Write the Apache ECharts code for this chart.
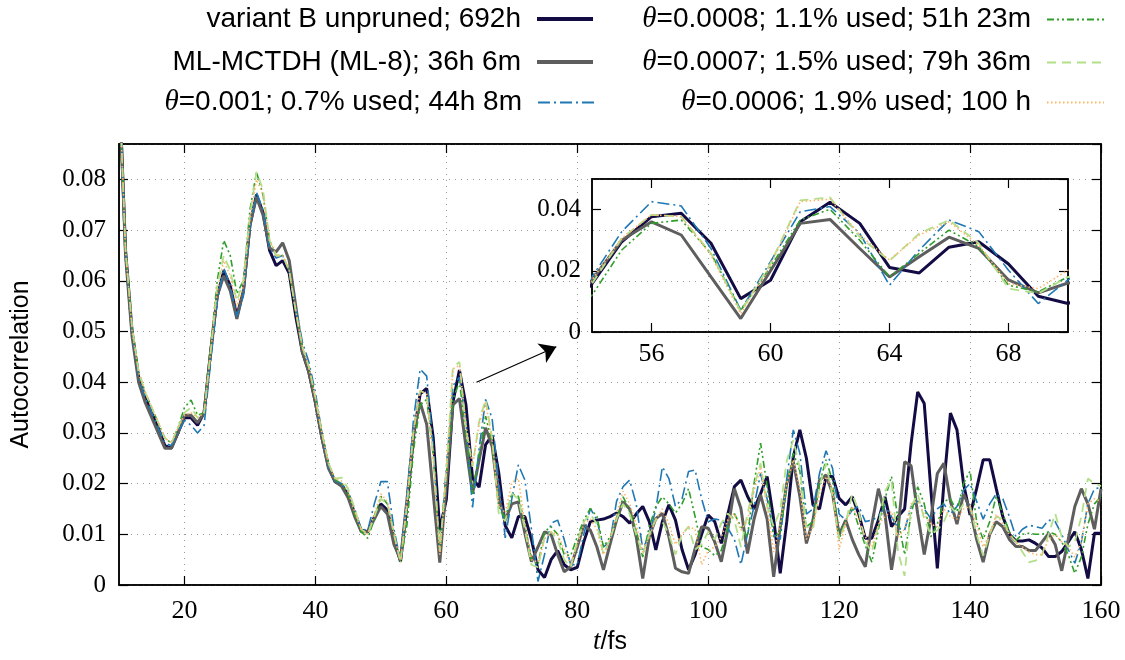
<!DOCTYPE html>
<html>
<head>
<meta charset="utf-8">
<title>Autocorrelation</title>
<script src="https://cdn.jsdelivr.net/npm/echarts@6/dist/echarts.min.js"></script>
<style>
  html, body { margin: 0; padding: 0; background: #fff; }
  #chart { width: 1125px; height: 660px; }
</style>
</head>
<body>
<div id="chart"></div>
<script>
// one sample per fs, from 10 fs to 160 fs
var tStart = 10, tEnd = 160;
var times = [];
for (var t = tStart; t <= tEnd; t++) times.push(t);

var names = [
  'variant B unpruned; 692h',
  'ML-MCTDH (ML-8); 36h 6m',
  'θ=0.001; 0.7% used; 44h 8m',
  'θ=0.0008; 1.1% used; 51h 23m',
  'θ=0.0007; 1.5% used; 79h 36m',
  'θ=0.0006; 1.9% used; 100 h'
];

// values, rows of ten (10-19 fs, 20-29 fs, ...)
var unpruned = [
  0.100, 0.066, 0.050, 0.041, 0.037, 0.034, 0.031, 0.0275, 0.027, 0.030,
  0.033, 0.033, 0.0315, 0.034, 0.046, 0.057, 0.062, 0.059, 0.053, 0.058,
  0.071, 0.077, 0.0735, 0.066, 0.063, 0.064, 0.0615, 0.053, 0.046, 0.042,
  0.036, 0.029, 0.0233, 0.0204, 0.0197, 0.0178, 0.0141, 0.0108, 0.0105, 0.0134,
  0.0160, 0.0148, 0.0089, 0.0046, 0.0158, 0.0295, 0.0377, 0.0388, 0.0290, 0.0109,
  0.0169, 0.0360, 0.0424, 0.0355, 0.0211, 0.0193, 0.0277, 0.0295, 0.0222, 0.0117,
  0.0093, 0.0135, 0.0135, 0.0090, 0.0030, 0.0015, 0.0050, 0.0068, 0.0040, 0.0030,
  0.0035, 0.0085, 0.0125, 0.0128, 0.0130, 0.0135, 0.0142, 0.0135, 0.0122, 0.0140,
  0.0155, 0.0125, 0.0069, 0.0125, 0.0158, 0.0128, 0.0070, 0.0030, 0.0060, 0.0100,
  0.0138, 0.0125, 0.0082, 0.0140, 0.0194, 0.0207, 0.0175, 0.0150, 0.0180, 0.0214,
  0.0130, 0.0023, 0.0125, 0.0253, 0.0306, 0.0250, 0.0158, 0.0150, 0.0214, 0.0214,
  0.0171, 0.0158, 0.0174, 0.0140, 0.0092, 0.0092, 0.0128, 0.0174, 0.0115, 0.0135,
  0.0150, 0.0280, 0.0381, 0.0358, 0.0190, 0.0033, 0.0200, 0.0339, 0.0306, 0.0200,
  0.0138, 0.0190, 0.0247, 0.0247, 0.0190, 0.0135, 0.0100, 0.0087, 0.0087, 0.0089,
  0.0082, 0.0073, 0.0056, 0.0056, 0.0066, 0.0085, 0.0105, 0.0070, 0.0013, 0.0102,
  0.0102
];
var mlmctdh = [
  0.100, 0.065, 0.049, 0.040, 0.036, 0.033, 0.030, 0.027, 0.027, 0.030,
  0.0335, 0.0335, 0.032, 0.034, 0.046, 0.057, 0.061, 0.058, 0.0525, 0.058,
  0.071, 0.0765, 0.073, 0.0665, 0.0657, 0.0675, 0.064, 0.055, 0.046, 0.042,
  0.036, 0.029, 0.023, 0.0204, 0.0195, 0.0172, 0.0135, 0.0105, 0.0105, 0.0130,
  0.0155, 0.0140, 0.0080, 0.0050, 0.0170, 0.0300, 0.0360, 0.0317, 0.0180, 0.0044,
  0.0200, 0.0355, 0.0368, 0.0273, 0.0180, 0.0246, 0.0310, 0.0273, 0.0170, 0.0128,
  0.0160, 0.0164, 0.0102, 0.0046, 0.0075, 0.0105, 0.0100, 0.0060, 0.0026, 0.0036,
  0.0075, 0.0118, 0.0108, 0.0075, 0.0030, 0.0080, 0.0128, 0.0164, 0.0150, 0.0095,
  0.0013, 0.0095, 0.0131, 0.0141, 0.0095, 0.0033, 0.0026, 0.0023, 0.0072, 0.0115,
  0.0112, 0.0085, 0.0046, 0.0110, 0.0190, 0.0151, 0.0062, 0.0130, 0.0178, 0.0130,
  0.0016, 0.0115, 0.0200, 0.0243, 0.0175, 0.0082, 0.0128, 0.0207, 0.0217, 0.0180,
  0.0099, 0.0128, 0.0090, 0.0060, 0.0036, 0.0120, 0.0190, 0.0140, 0.0030, 0.0110,
  0.0243, 0.0235, 0.0140, 0.0060, 0.0130, 0.0220, 0.0240, 0.0165, 0.0120, 0.0180,
  0.0150, 0.0090, 0.0045, 0.0100, 0.0125, 0.0115, 0.0090, 0.0076, 0.0076, 0.0068,
  0.0068, 0.0085, 0.0102, 0.0080, 0.0028, 0.0090, 0.0155, 0.0190, 0.0160, 0.0110,
  0.0190
];
var theta0010 = [
  0.100, 0.066, 0.050, 0.041, 0.037, 0.034, 0.031, 0.028, 0.0275, 0.030,
  0.0325, 0.0315, 0.030, 0.0315, 0.044, 0.056, 0.0625, 0.059, 0.053, 0.057,
  0.0705, 0.0775, 0.074, 0.0665, 0.0645, 0.065, 0.062, 0.055, 0.048, 0.044,
  0.038, 0.030, 0.0235, 0.0205, 0.0200, 0.0185, 0.0150, 0.0110, 0.0108, 0.0160,
  0.0204, 0.0204, 0.0110, 0.0048, 0.0180, 0.0328, 0.0426, 0.0412, 0.0273, 0.0071,
  0.0230, 0.0393, 0.0410, 0.0322, 0.0153, 0.0268, 0.0366, 0.0328, 0.0202, 0.0093,
  0.0170, 0.0237, 0.0207, 0.0110, 0.0007, 0.0060, 0.0122, 0.0128, 0.0090, 0.0040,
  0.0040, 0.0100, 0.0151, 0.0128, 0.0075, 0.0085, 0.0165, 0.0194, 0.0207, 0.0160,
  0.0070, 0.0100, 0.0150, 0.0233, 0.0210, 0.0155, 0.0170, 0.0224, 0.0227, 0.0170,
  0.0125, 0.0130, 0.0128, 0.0112, 0.0090, 0.0040, 0.0100, 0.0155, 0.0220, 0.0170,
  0.0100, 0.0090, 0.0210, 0.0306, 0.0260, 0.0140, 0.0150, 0.0220, 0.0265, 0.0230,
  0.0140, 0.0128, 0.0148, 0.0155, 0.0125, 0.0128, 0.0135, 0.0155, 0.0135, 0.0112,
  0.0108, 0.0155, 0.0165, 0.0150, 0.0131, 0.0150, 0.0160, 0.0140, 0.0155, 0.0187,
  0.0200, 0.0165, 0.0130, 0.0160, 0.0180, 0.0170, 0.0135, 0.0095, 0.0110, 0.0118,
  0.0115, 0.0112, 0.0128, 0.0125, 0.0100, 0.0070, 0.0043, 0.0085, 0.0160, 0.0190,
  0.0192
];
var theta0008 = [
  0.100, 0.067, 0.051, 0.042, 0.038, 0.035, 0.032, 0.029, 0.028, 0.031,
  0.035, 0.0365, 0.0335, 0.034, 0.047, 0.060, 0.068, 0.065, 0.0575, 0.060,
  0.074, 0.0815, 0.077, 0.068, 0.065, 0.065, 0.062, 0.054, 0.047, 0.043,
  0.037, 0.030, 0.024, 0.0208, 0.0200, 0.0180, 0.0140, 0.0105, 0.0092, 0.0130,
  0.0175, 0.0160, 0.0100, 0.0045, 0.0120, 0.0268, 0.0355, 0.0366, 0.0257, 0.0071,
  0.0213, 0.0366, 0.0401, 0.0300, 0.0180, 0.0257, 0.0333, 0.0279, 0.0153, 0.0131,
  0.0180, 0.0175, 0.0120, 0.0050, 0.0040, 0.0105, 0.0115, 0.0100, 0.0060, 0.0058,
  0.0095, 0.0128, 0.0151, 0.0135, 0.0075, 0.0095, 0.0128, 0.0174, 0.0148, 0.0108,
  0.0055, 0.0115, 0.0155, 0.0174, 0.0160, 0.0142, 0.0160, 0.0190, 0.0135, 0.0075,
  0.0070, 0.0058, 0.0068, 0.0115, 0.0141, 0.0115, 0.0095, 0.0200, 0.0280, 0.0195,
  0.0095, 0.0105, 0.0195, 0.0260, 0.0225, 0.0115, 0.0125, 0.0200, 0.0247, 0.0205,
  0.0090, 0.0128, 0.0155, 0.0115, 0.0078, 0.0045, 0.0110, 0.0170, 0.0214, 0.0130,
  0.0060, 0.0140, 0.0194, 0.0160, 0.0095, 0.0120, 0.0165, 0.0170, 0.0145, 0.0200,
  0.0225, 0.0125, 0.0090, 0.0125, 0.0175, 0.0140, 0.0105, 0.0088, 0.0100, 0.0102,
  0.0100, 0.0100, 0.0105, 0.0100, 0.0085, 0.0060, 0.0023, 0.0055, 0.0120, 0.0160,
  0.0175
];
var theta0007 = [
  0.100, 0.066, 0.051, 0.042, 0.038, 0.035, 0.032, 0.029, 0.028, 0.031,
  0.034, 0.035, 0.033, 0.034, 0.046, 0.059, 0.065, 0.062, 0.056, 0.060,
  0.073, 0.0815, 0.078, 0.068, 0.065, 0.065, 0.062, 0.054, 0.047, 0.043,
  0.037, 0.030, 0.024, 0.021, 0.0212, 0.019, 0.015, 0.011, 0.0100, 0.0135,
  0.0170, 0.0160, 0.0100, 0.0045, 0.0158, 0.0306, 0.0383, 0.0377, 0.0257, 0.0066,
  0.0224, 0.0430, 0.0440, 0.0310, 0.0233, 0.0322, 0.0366, 0.0290, 0.0142, 0.0126,
  0.0180, 0.0170, 0.0110, 0.0040, 0.0035, 0.0095, 0.0105, 0.0090, 0.0050, 0.0035,
  0.0085, 0.0125, 0.0140, 0.0120, 0.0060, 0.0090, 0.0130, 0.0160, 0.0140, 0.0100,
  0.0060, 0.0100, 0.0130, 0.0125, 0.0100, 0.0060, 0.0100, 0.0115, 0.0070, 0.0080,
  0.0105, 0.0090, 0.0122, 0.0141, 0.0128, 0.0075, 0.0141, 0.0195, 0.0240, 0.0155,
  0.0115, 0.0148, 0.0245, 0.0286, 0.0230, 0.0115, 0.0110, 0.0195, 0.0240, 0.0175,
  0.0090, 0.0122, 0.0180, 0.0145, 0.0085, 0.0065, 0.0118, 0.0185, 0.0207, 0.0065,
  0.0018, 0.0155, 0.0180, 0.0130, 0.0100, 0.0108, 0.0125, 0.0155, 0.0140, 0.0160,
  0.0155, 0.0100, 0.0058, 0.0100, 0.0135, 0.0130, 0.0100, 0.0085, 0.0065, 0.0045,
  0.0048, 0.0060, 0.0100, 0.0141, 0.0095, 0.0075, 0.0085, 0.0135, 0.0210, 0.0200,
  0.0195
];
var theta0006 = [
  0.100, 0.066, 0.050, 0.042, 0.038, 0.035, 0.032, 0.029, 0.028, 0.031,
  0.0335, 0.034, 0.033, 0.034, 0.046, 0.058, 0.064, 0.061, 0.055, 0.059,
  0.072, 0.080, 0.077, 0.068, 0.065, 0.065, 0.062, 0.054, 0.047, 0.043,
  0.037, 0.030, 0.024, 0.021, 0.0205, 0.0185, 0.0145, 0.011, 0.0100, 0.0140,
  0.0180, 0.0165, 0.0100, 0.0045, 0.0170, 0.0306, 0.0383, 0.0377, 0.0251, 0.0060,
  0.0219, 0.0426, 0.0434, 0.0317, 0.0235, 0.0317, 0.0360, 0.0284, 0.0158, 0.0142,
  0.0202, 0.0210, 0.0120, 0.0050, 0.0045, 0.0090, 0.0105, 0.0100, 0.0070, 0.0040,
  0.0080, 0.0120, 0.0130, 0.0110, 0.0060, 0.0090, 0.0140, 0.0185, 0.0160, 0.0120,
  0.0065, 0.0095, 0.0130, 0.0150, 0.0120, 0.0080, 0.0100, 0.0115, 0.0110, 0.0040,
  0.0068, 0.0075, 0.0095, 0.0128, 0.0141, 0.0108, 0.0128, 0.0185, 0.0233, 0.0155,
  0.0065, 0.0120, 0.0200, 0.0247, 0.0190, 0.0090, 0.0115, 0.0180, 0.0214, 0.0190,
  0.0070, 0.0122, 0.0155, 0.0128, 0.0095, 0.0075, 0.0120, 0.0135, 0.0145, 0.0095,
  0.0110, 0.0160, 0.0165, 0.0140, 0.0120, 0.0115, 0.0150, 0.0135, 0.0130, 0.0150,
  0.0155, 0.0120, 0.0075, 0.0100, 0.0140, 0.0120, 0.0100, 0.0085, 0.0075, 0.0065,
  0.0060, 0.0060, 0.0090, 0.0100, 0.0085, 0.0075, 0.0055, 0.0085, 0.0160, 0.0170,
  0.0165
];
var allValues = [unpruned, mlmctdh, theta0010, theta0008, theta0007, theta0006];

var mainTicksX = [20, 40, 60, 80, 100, 120, 140, 160];
var insetTicksX = [56, 60, 64, 68];

// arrow from the main curve to the inset (data units)
var arrowFrom = [64.6, 0.0400];
var arrowTo = [76.8, 0.0470];

var lineStyles = [
  { color: '#130b44', width: 3, type: 'solid' },
  { color: '#5e5e5e', width: 3, type: 'solid' },
  { color: '#1f78b4', width: 1.6, type: [12, 4, 2, 4] },
  { color: '#2f9e2a', width: 1.6, type: [7, 3, 2, 3, 2, 3] },
  { color: '#b2df8a', width: 1.8, type: [9, 6] },
  { color: '#fdb56a', width: 1.6, type: [1.5, 2.5] }
];
var legendLineWidth = [4, 4, 2, 2, 2, 2];

var serif = 'Liberation Serif';
var sans = 'Liberation Sans';

function fmtY(v) { return v === 0 ? '0' : v.toFixed(2); }

function pairs(vals) {
  return times.map(function (t, k) { return [t, vals[k]]; });
}

var series = [];
allValues.forEach(function (vals, i) {
  var s = {
    type: 'line', name: names[i], data: pairs(vals),
    xAxisIndex: 0, yAxisIndex: 0, symbol: 'none', clip: true,
    lineStyle: lineStyles[i], itemStyle: { color: lineStyles[i].color },
    z: 2 + i, animation: false
  };
  if (i === 0) {
    s.markLine = {
      silent: true, animation: false,
      symbol: ['none', 'arrow'], symbolSize: 16,
      lineStyle: { color: '#000', width: 1.2, type: 'solid' },
      label: { show: false },
      data: [[{ coord: arrowFrom }, { coord: arrowTo }]]
    };
  }
  series.push(s);
});
allValues.forEach(function (vals, i) {
  series.push({
    type: 'line', name: names[i], data: pairs(vals),
    xAxisIndex: 2, yAxisIndex: 2, symbol: 'none', clip: true,
    lineStyle: lineStyles[i], itemStyle: { color: lineStyles[i].color },
    z: 2 + i, animation: false
  });
});

// two legend columns, text right-aligned with the sample to its right
var legendRight = [530, 20];
var legendWidth = [56, 57];
var legendTop = [5, 48, 88];
var legends = names.map(function (n, i) {
  var col = i < 3 ? 0 : 1, row = i % 3;
  return {
    data: [n], selectedMode: false, align: 'right', orient: 'horizontal',
    right: legendRight[col], top: legendTop[row],
    itemWidth: legendWidth[col], itemHeight: 14, padding: 0,
    itemStyle: { opacity: 0 },
    lineStyle: { width: legendLineWidth[i] },
    formatter: function (name) { return name.replace('θ', '{th|θ}'); },
    textStyle: {
      fontFamily: sans, fontSize: 28, color: '#000', padding: [0, 11, 0, 0],
      rich: { th: { fontFamily: serif, fontStyle: 'italic', fontSize: 29, color: '#000' } }
    }
  };
});

var tickStyle = { color: '#000', width: 1.2 };
function xAxisOpt(grid, min, max, ticks, pos, labels, split) {
  return {
    type: 'value', gridIndex: grid, min: min, max: max, position: pos,
    axisLine: { show: true, onZero: false, lineStyle: { color: '#000', width: 1.5 } },
    axisTick: { show: true, inside: true, length: 9, customValues: ticks, lineStyle: tickStyle },
    axisLabel: { show: labels, customValues: ticks, fontFamily: serif, fontSize: 26, color: '#000', margin: grid === 0 ? 13 : 9 },
    splitLine: { show: split, lineStyle: { color: '#999', width: 1, type: [1, 5] } }
  };
}
function yAxisOpt(grid, max, interval, pos, labels, split) {
  return {
    type: 'value', gridIndex: grid, min: 0, max: max, interval: interval, position: pos,
    axisLine: { show: true, onZero: false, lineStyle: { color: '#000', width: 1.5 } },
    axisTick: { show: true, inside: true, length: 9, lineStyle: tickStyle },
    axisLabel: { show: labels, formatter: fmtY, showMaxLabel: false, fontFamily: serif, fontSize: 25, color: '#000', margin: grid === 0 ? 13 : 11 },
    splitLine: { show: split, lineStyle: { color: '#999', width: 1, type: [1, 5] } }
  };
}

var xMain = xAxisOpt(0, tStart, tEnd, mainTicksX, 'bottom', true, true);
xMain.name = '{i|t}/fs';
xMain.nameLocation = 'middle';
xMain.nameGap = 42;
xMain.nameTextStyle = {
  fontFamily: sans, fontSize: 25, color: '#000',
  rich: { i: { fontFamily: serif, fontStyle: 'italic', fontSize: 27, color: '#000' } }
};
var yMain = yAxisOpt(0, 0.087, 0.01, 'left', true, true);
yMain.name = 'Autocorrelation';
yMain.nameLocation = 'middle';
yMain.nameGap = 85;
yMain.nameTextStyle = { fontFamily: sans, fontSize: 25, color: '#000' };

var option = {
  backgroundColor: '#fff',
  animation: false,
  textStyle: { fontFamily: sans },
  legend: legends,
  grid: [
    { left: 119, right: 24, top: 144, bottom: 75, show: true, borderColor: '#000', borderWidth: 1.5,
      backgroundColor: 'transparent', containLabel: false, outerBoundsMode: 'none' },
    { left: 592, right: 57, top: 179, height: 153, show: true, borderColor: '#000', borderWidth: 1.5,
      backgroundColor: 'transparent', containLabel: false, outerBoundsMode: 'none' }
  ],
  xAxis: [
    xMain,
    xAxisOpt(0, tStart, tEnd, mainTicksX, 'top', false, false),
    xAxisOpt(1, 54, 70, insetTicksX, 'bottom', true, false),
    xAxisOpt(1, 54, 70, insetTicksX, 'top', false, false)
  ],
  yAxis: [
    yMain,
    yAxisOpt(0, 0.087, 0.01, 'right', false, false),
    yAxisOpt(1, 0.05, 0.02, 'left', true, false),
    yAxisOpt(1, 0.05, 0.02, 'right', false, false)
  ],
  series: series
};

var chart = echarts.init(document.getElementById('chart'), null, { renderer: 'canvas' });
chart.setOption(option);
window.addEventListener('resize', function () { chart.resize(); });
</script>
</body>
</html>
